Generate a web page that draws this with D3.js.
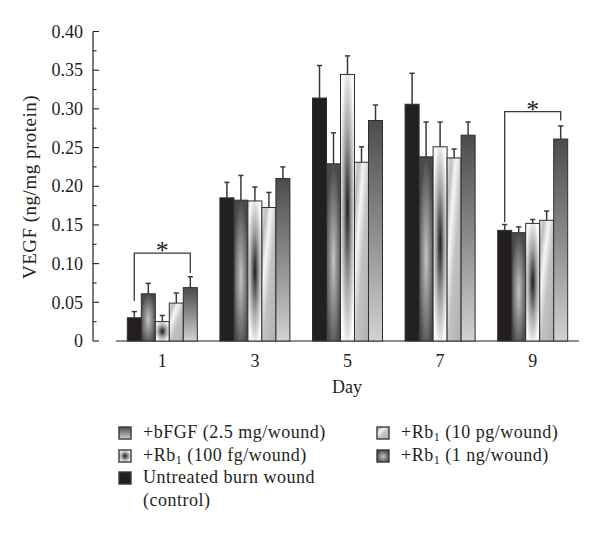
<!DOCTYPE html>
<html>
<head>
<meta charset="utf-8">
<script src="https://cdn.jsdelivr.net/npm/d3@7"></script>
<style>
  html, body { margin: 0; padding: 0; background: #fff; }
  svg { display: block; }
  text { font-family: "Liberation Serif", "Times New Roman", serif; fill: #231f20; }
</style>
</head>
<body>
<div id="chart"></div>
<script>
// ---------------- data ----------------
const days = ["1", "3", "5", "7", "9"];
const seriesKeys = ["control", "rb1ng", "rb100fg", "rb10pg", "bfgf"];
const seriesLabels = [
  "Untreated burn wound|(control)",
  "+Rb1 (1 ng/wound)",
  "+Rb1 (100 fg/wound)",
  "+Rb1 (10 pg/wound)",
  "+bFGF (2.5 mg/wound)"
];
const control    = [0.030, 0.185, 0.314, 0.306, 0.143];
const controlErr = [0.008, 0.020, 0.042, 0.040, 0.0075];
const rb1ng      = [0.061, 0.182, 0.229, 0.238, 0.140];
const rb1ngErr   = [0.0135, 0.032, 0.040, 0.045, 0.0075];
const rb100fg    = [0.025, 0.181, 0.3445, 0.251, 0.152];
const rb100fgErr = [0.008, 0.018, 0.024, 0.032, 0.005];
const rb10pg     = [0.049, 0.1725, 0.231, 0.2366, 0.156];
const rb10pgErr  = [0.013, 0.0195, 0.020, 0.0115, 0.012];
const bfgf       = [0.069, 0.210, 0.285, 0.266, 0.261];
const bfgfErr    = [0.014, 0.015, 0.020, 0.017, 0.017];
const yTicks = [0, 0.05, 0.10, 0.15, 0.20, 0.25, 0.30, 0.35, 0.40];
const yTickLabels = ["0", "0.05", "0.10", "0.15", "0.20", "0.25", "0.30", "0.35", "0.40"];
// significance brackets: day, from series, to series, top value, left leg end, right leg end
const brackets = [
  { day: "1", from: 0, to: 4, top: 0.1135, leftEnd: 0.0516, rightEnd: 0.088 },
  { day: "9", from: 0, to: 4, top: 0.2964, leftEnd: 0.1535, rightEnd: 0.285 }
];
// legend order (row-wise, two columns)
const legendOrder = [4, 3, 2, 1, 0];

const values = [control, rb1ng, rb100fg, rb10pg, bfgf];
const errors = [controlErr, rb1ngErr, rb100fgErr, rb10pgErr, bfgfErr];

// ---------------- layout ----------------
const W = 600, H = 536;
const svg = d3.select("#chart").append("svg").attr("width", W).attr("height", H);
const ink = "#231f20";

const defs = svg.append("defs");
const fills = [];
fills[0] = ink;
{
  const g = defs.append("radialGradient").attr("id", "f1").attr("cx", 0.5).attr("cy", 0.55).attr("r", 0.55);
  g.append("stop").attr("offset", 0).attr("stop-color", "#c4c4c4");
  g.append("stop").attr("offset", 1).attr("stop-color", "#4a4a4a");
  fills[1] = "url(#f1)";
}
{
  const g = defs.append("radialGradient").attr("id", "f2").attr("cx", 0.5).attr("cy", 0.5).attr("r", 0.55);
  g.append("stop").attr("offset", 0).attr("stop-color", "#1c1c1c");
  g.append("stop").attr("offset", 0.55).attr("stop-color", "#a8a8a8");
  g.append("stop").attr("offset", 1).attr("stop-color", "#fafafa");
  fills[2] = "url(#f2)";
}
{
  const g = defs.append("linearGradient").attr("id", "f3").attr("x1", 0).attr("y1", 0).attr("x2", 1).attr("y2", 1);
  g.append("stop").attr("offset", 0).attr("stop-color", "#ececec");
  g.append("stop").attr("offset", 0.15).attr("stop-color", "#bdbdbd");
  g.append("stop").attr("offset", 0.32).attr("stop-color", "#f6f6f6");
  g.append("stop").attr("offset", 0.55).attr("stop-color", "#c2c2c2");
  g.append("stop").attr("offset", 1).attr("stop-color", "#b0b0b0");
  fills[3] = "url(#f3)";
}
{
  const g = defs.append("linearGradient").attr("id", "f4").attr("x1", 0).attr("y1", 0).attr("x2", 0).attr("y2", 1);
  g.append("stop").attr("offset", 0).attr("stop-color", "#4c4c4c");
  g.append("stop").attr("offset", 0.5).attr("stop-color", "#8c8c8c");
  g.append("stop").attr("offset", 1).attr("stop-color", "#d2d2d2");
  fills[4] = "url(#f4)";
}

const yAxisX = 93;
const x0 = d3.scaleBand().domain(days).range([116, 579]).paddingInner(0.244).paddingOuter(0.122);
const x1 = d3.scaleBand().domain(d3.range(seriesKeys.length)).range([0, x0.bandwidth()]);
const y = d3.scaleLinear().domain([0, 0.4]).range([341, 31.5]);

// y axis
const yAxis = svg.append("g");
yAxis.append("line").attr("x1", yAxisX).attr("x2", yAxisX).attr("y1", y(0)).attr("y2", y(0.4))
  .attr("stroke", ink).attr("stroke-width", 1.2);
const minor = d3.range(0, 0.4001, 0.025);
yAxis.selectAll(".mt").data(minor).enter().append("line")
  .attr("x1", yAxisX).attr("x2", (d, i) => yAxisX + (i % 2 === 0 ? 6 : 3.5))
  .attr("y1", d => y(d)).attr("y2", d => y(d))
  .attr("stroke", ink).attr("stroke-width", 1.1);
yAxis.selectAll(".tl").data(yTicks).enter().append("text")
  .attr("x", 83).attr("y", d => y(d) + 6.2)
  .attr("text-anchor", "end").attr("font-size", 18)
  .text((d, i) => yTickLabels[i]);
svg.append("text")
  .attr("transform", `translate(36,187) rotate(-90)`)
  .attr("text-anchor", "middle").attr("font-size", 19).attr("letter-spacing", 0.5)
  .text("VEGF (ng/mg protein)");

// x axis
svg.append("line").attr("x1", x0.range()[0]).attr("x2", x0.range()[1]).attr("y1", y(0)).attr("y2", y(0))
  .attr("stroke", ink).attr("stroke-width", 1.2);
svg.selectAll(".xl").data(days).enter().append("text")
  .attr("x", d => x0(d) + x0.bandwidth() / 2).attr("y", 367)
  .attr("text-anchor", "middle").attr("font-size", 18).text(d => d);
svg.append("text").attr("x", 347).attr("y", 393).attr("text-anchor", "middle").attr("font-size", 18).text("Day");

// bars
const cells = [];
days.forEach((d, di) => seriesKeys.forEach((k, si) => cells.push({ day: d, si, v: values[si][di], e: errors[si][di] })));
const barG = svg.append("g");
barG.selectAll(".eb").data(cells).enter().append("line")
  .attr("x1", c => x0(c.day) + x1(c.si) + x1.bandwidth() / 2)
  .attr("x2", c => x0(c.day) + x1(c.si) + x1.bandwidth() / 2)
  .attr("y1", c => y(c.v)).attr("y2", c => y(c.v + c.e))
  .attr("stroke", "#3a3a3a").attr("stroke-width", 1.5);
barG.selectAll(".ec").data(cells).enter().append("line")
  .attr("x1", c => x0(c.day) + x1(c.si) + x1.bandwidth() / 2 - 2.6)
  .attr("x2", c => x0(c.day) + x1(c.si) + x1.bandwidth() / 2 + 2.6)
  .attr("y1", c => y(c.v + c.e)).attr("y2", c => y(c.v + c.e))
  .attr("stroke", "#3a3a3a").attr("stroke-width", 1.5);
barG.selectAll(".bar").data(cells).enter().append("rect")
  .attr("x", c => x0(c.day) + x1(c.si))
  .attr("y", c => y(c.v))
  .attr("width", x1.bandwidth())
  .attr("height", c => y(0) - y(c.v))
  .attr("fill", c => fills[c.si])
  .attr("stroke", "#2e2e2e").attr("stroke-width", 1);

// brackets
brackets.forEach(b => {
  const xa = x0(b.day) + x1(b.from) + x1.bandwidth() / 2;
  const xb = x0(b.day) + x1(b.to) + x1.bandwidth() / 2;
  svg.append("path")
    .attr("d", `M${xa},${y(b.leftEnd)}V${y(b.top)}H${xb}V${y(b.rightEnd)}`)
    .attr("fill", "none").attr("stroke", "#3a3a3a").attr("stroke-width", 1.3);
  svg.append("text").attr("x", (xa + xb) / 2).attr("y", y(b.top) + 6)
    .attr("text-anchor", "middle").attr("font-size", 26).text("*");
});

// legend
const legPos = [
  { x: 119, yb: 438 }, { x: 377, yb: 438 },
  { x: 119, yb: 461 }, { x: 377, yb: 461 },
  { x: 119, yb: 483 }
];
legendOrder.forEach((si, i) => {
  const p = legPos[i];
  const g = svg.append("g");
  g.append("rect").attr("x", p.x).attr("y", p.yb - 11).attr("width", 12).attr("height", 12)
    .attr("fill", fills[si]).attr("stroke", "#3a3a3a").attr("stroke-width", 1.4);
  const lines = seriesLabels[si].split("|");
  lines.forEach((ln, li) => {
    const t = g.append("text").attr("x", p.x + 24).attr("y", p.yb + li * 23)
      .attr("font-size", 18).attr("letter-spacing", 0.5);
    const m = ln.match(/^(\+Rb)1(.*)$/);
    if (m) {
      t.append("tspan").text(m[1]);
      t.append("tspan").attr("font-size", 12).attr("dy", 3).text("1");
      t.append("tspan").attr("dy", -3).text(m[2]);
    } else {
      t.text(ln);
    }
  });
});
</script>
</body>
</html>
